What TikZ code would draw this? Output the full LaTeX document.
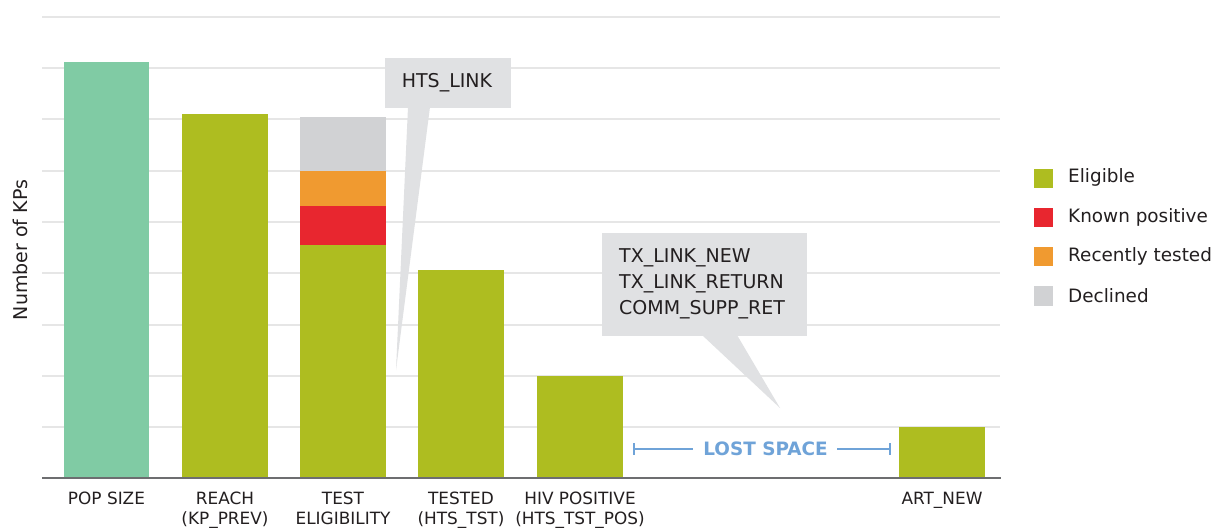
\documentclass[tikz,border=0pt]{standalone}
\usepackage{fontspec}
\setmainfont{DejaVu Sans}
\definecolor{popc}{HTML}{80CBA4}
\definecolor{eligc}{HTML}{AEBD20}
\definecolor{knownc}{HTML}{E8262F}
\definecolor{recentc}{HTML}{F09A30}
\definecolor{declc}{HTML}{D1D2D4}
\definecolor{callc}{HTML}{E0E1E3}
\definecolor{gridc}{HTML}{E6E6E6}
\definecolor{axisc}{HTML}{6D6E70}
\definecolor{lostc}{HTML}{6FA3D8}
\definecolor{txtc}{HTML}{231F20}
\begin{document}
\begin{tikzpicture}[x=1pt,y=-1pt,
  gridline/.style={draw=gridc,line width=2pt},
  xlab/.style={text=txtc,font=\fontsize{16.9}{20}\selectfont,align=center,anchor=north,inner sep=0pt},
  legtxt/.style={text=txtc,font=\fontsize{18.4}{20}\selectfont,anchor=west,inner sep=0pt},
  legsq/.style={minimum size=19pt,inner sep=0pt},
  callbox/.style={fill=callc,inner sep=0pt},
  calltxt/.style={text=txtc,font=\fontsize{19}{26}\selectfont,inner sep=0pt,align=left}
]
\useasboundingbox[fill=white] (0,0) rectangle (1215,529);
% grid
\foreach \yy in {16.7,68,119.3,170.7,222,273.3,324.7,376,427.3}
  \draw[gridline] (42,\yy) -- (1000,\yy);
% bars
\fill[popc] (64,62) rectangle (149,478);
\fill[eligc] (182,114.5) rectangle (268,478);
\fill[declc] (300,117) rectangle (386,171);
\fill[recentc] (300,171) rectangle (386,206);
\fill[knownc] (300,206) rectangle (386,245.5);
\fill[eligc] (300,245.5) rectangle (386,478);
\fill[eligc] (418,270) rectangle (504,478);
\fill[eligc] (537,375.7) rectangle (623,478);
\fill[eligc] (899,427) rectangle (985,478);
% axis
\draw[axisc,line width=2pt] (42,478) -- (1001,478);
% callout 1
\node[callbox,minimum width=126pt,minimum height=50pt] (c1) at (448,83) {};
\coordinate (t1) at (396,370);
\fill[callc] (408,107) -- (430,107) -- (t1) -- cycle;
\node[calltxt] (c1t) at (447,83) {HTS\_LINK};
% callout 2
\node[callbox,minimum width=205pt,minimum height=103pt] (c2) at (704.5,284.5) {};
\coordinate (t2) at (780,408);
\fill[callc] (702,335) -- (737,335) -- (t2) -- cycle;
\node[calltxt,anchor=west] (c2a) at (619,258) {TX\_LINK\_NEW};
\node[calltxt,anchor=west] (c2b) at (619,284) {TX\_LINK\_RETURN};
\node[calltxt,anchor=west] (c2c) at (619,310) {COMM\_SUPP\_RET};
% lost space
\node[text=lostc,font=\bfseries\fontsize{18.4}{20}\selectfont,inner sep=0pt] (lost) at (765.5,449) {LOST SPACE};
\coordinate (ll) at (634,449);
\coordinate (lr) at (890,449);
\draw[lostc,line width=1.3pt] (ll) -- (693,449);
\draw[lostc,line width=1.3pt] (837,449) -- (lr);
\draw[lostc,line width=1.3pt] (634,443) -- (634,455);
\draw[lostc,line width=1.3pt] (890,443) -- (890,455);
% x labels
\node[xlab] (l1) at (106.5,491.5) {POP SIZE};
\node[xlab] (l2) at (225,491.5) {REACH\\(KP\_PREV)};
\node[xlab] (l3) at (343,491.5) {TEST\\ELIGIBILITY};
\node[xlab] (l4) at (461,491.5) {TESTED\\(HTS\_TST)};
\node[xlab] (l5) at (580,491.5) {HIV POSITIVE\\(HTS\_TST\_POS)};
\node[xlab] (l6) at (942,491.5) {ART\_NEW};
% y label
\node[text=txtc,font=\fontsize{19}{20}\selectfont,rotate=90,inner sep=0pt] (ylab) at (20,250) {Number of KPs};
% legend
\node[legsq,fill=eligc] (s1) at (1043.5,178.5) {};
\node[legsq,fill=knownc] (s2) at (1043.5,217.5) {};
\node[legsq,fill=recentc] (s3) at (1043.5,257) {};
\node[legsq,fill=declc] (s4) at (1043.5,296) {};
\node[legtxt] (e1) at (1068,177) {Eligible};
\node[legtxt] (e2) at (1068,217) {Known positive};
\node[legtxt] (e3) at (1068,256.5) {Recently tested};
\node[legtxt] (e4) at (1068,296) {Declined};
\end{tikzpicture}
\end{document}
